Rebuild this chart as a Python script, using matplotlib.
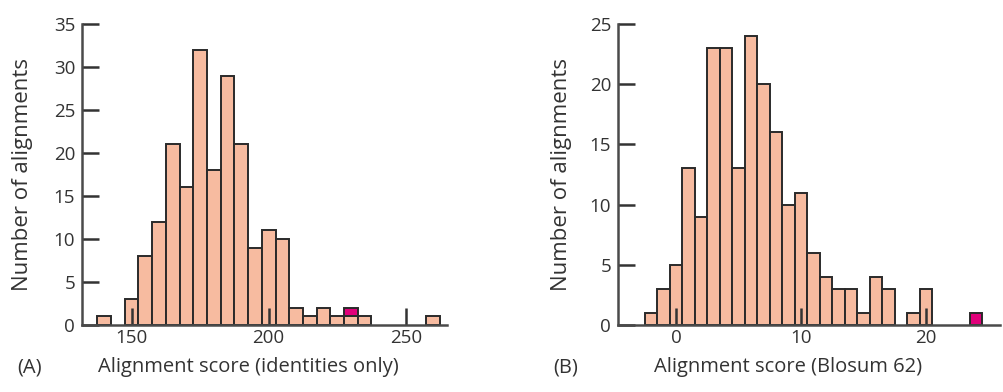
import matplotlib
matplotlib.use("Agg")
from matplotlib import pyplot as plt

plt.rcParams['font.family'] = ['Open Sans', 'DejaVu Sans']

# panel A: alignment score, identities only (bins of 5)
scoreA = [140, 145, 150, 155, 160, 165, 170, 175, 180, 185, 190, 195, 200,
          205, 210, 215, 220, 225, 230, 235, 240, 245, 250, 255, 260]
countA = [1, 0, 3, 8, 12, 21, 16, 32, 18, 29, 21, 9, 11,
          10, 2, 1, 2, 1, 1, 1, 0, 0, 0, 0, 1]
hiScoreA = [230]
hiCountA = [1]
hiBaseA = [1]

# panel B: alignment score, Blosum 62 (bins of 1)
scoreB = [-2, -1, 0, 1, 2, 3, 4, 5, 6, 7, 8, 9, 10, 11, 12, 13, 14, 15,
          16, 17, 18, 19, 20, 21, 22, 23, 24]
countB = [1, 3, 5, 13, 9, 23, 23, 13, 24, 20, 16, 10, 11, 6, 4, 3, 3, 1,
          4, 3, 0, 1, 3, 0, 0, 0, 0]
hiScoreB = [24]
hiCountB = [1]
hiBaseB = [0]

peach = '#F7BBA0'
magenta = '#E0007A'
axcol = '#4a4a4a'
txtcol = '#333333'

fig = plt.figure(figsize=(10.04, 3.92), dpi=100)
axA = fig.add_axes([0.0817, 0.171, 0.3636, 0.768])
axB = fig.add_axes([0.6155, 0.171, 0.3805, 0.768])


def draw(ax, x, y, hx, hy, hb, width, xlim, ymax, xticks):
    xs = [a for a, b in zip(x, y) if b > 0]
    ys = [b for b in y if b > 0]
    ax.bar(xs, ys, width=width, color=peach, edgecolor='#2a2a2a', linewidth=1.4)
    ax.bar(hx, hy, bottom=hb, width=width, color=magenta, edgecolor='#2a2a2a', linewidth=1.4)
    ax.set_xlim(*xlim)
    ax.set_ylim(0, ymax)
    ax.set_xticks(xticks)
    ax.set_yticks(range(0, ymax + 1, 5))
    for s in ['top', 'right']:
        ax.spines[s].set_visible(False)
    for s in ['left', 'bottom']:
        ax.spines[s].set_color(axcol)
        ax.spines[s].set_linewidth(1.8)
    ax.tick_params(direction='in', length=12, width=1.8, color='#333333',
                   labelsize=13.5, labelcolor=txtcol)
    ax.tick_params(axis='x', pad=3)
    ax.tick_params(axis='y', pad=5)
    ax.set_ylabel('Number of alignments', fontsize=16, color=txtcol)


draw(axA, scoreA, countA, hiScoreA, hiCountA, hiBaseA, 5, (131.9, 265.1), 35, [150, 200, 250])
draw(axB, scoreB, countB, hiScoreB, hiCountB, hiBaseB, 1, (-4.64, 25.92), 25, [0, 10, 20])
axA.yaxis.set_label_coords(-0.134, 0.5)
axB.yaxis.set_label_coords(-0.120, 0.5)

fig.text(30 / 1004, 0.051, '(A)', fontsize=14.5, color=txtcol, ha='center', va='baseline')
fig.text(248 / 1004, 0.051, 'Alignment score (identities only)', fontsize=14.5, color=txtcol, ha='center', va='baseline')
fig.text(566 / 1004, 0.051, '(B)', fontsize=14.5, color=txtcol, ha='center', va='baseline')
fig.text(788 / 1004, 0.051, 'Alignment score (Blosum 62)', fontsize=14.5, color=txtcol, ha='center', va='baseline')

fig.savefig('out.png', dpi=100)
